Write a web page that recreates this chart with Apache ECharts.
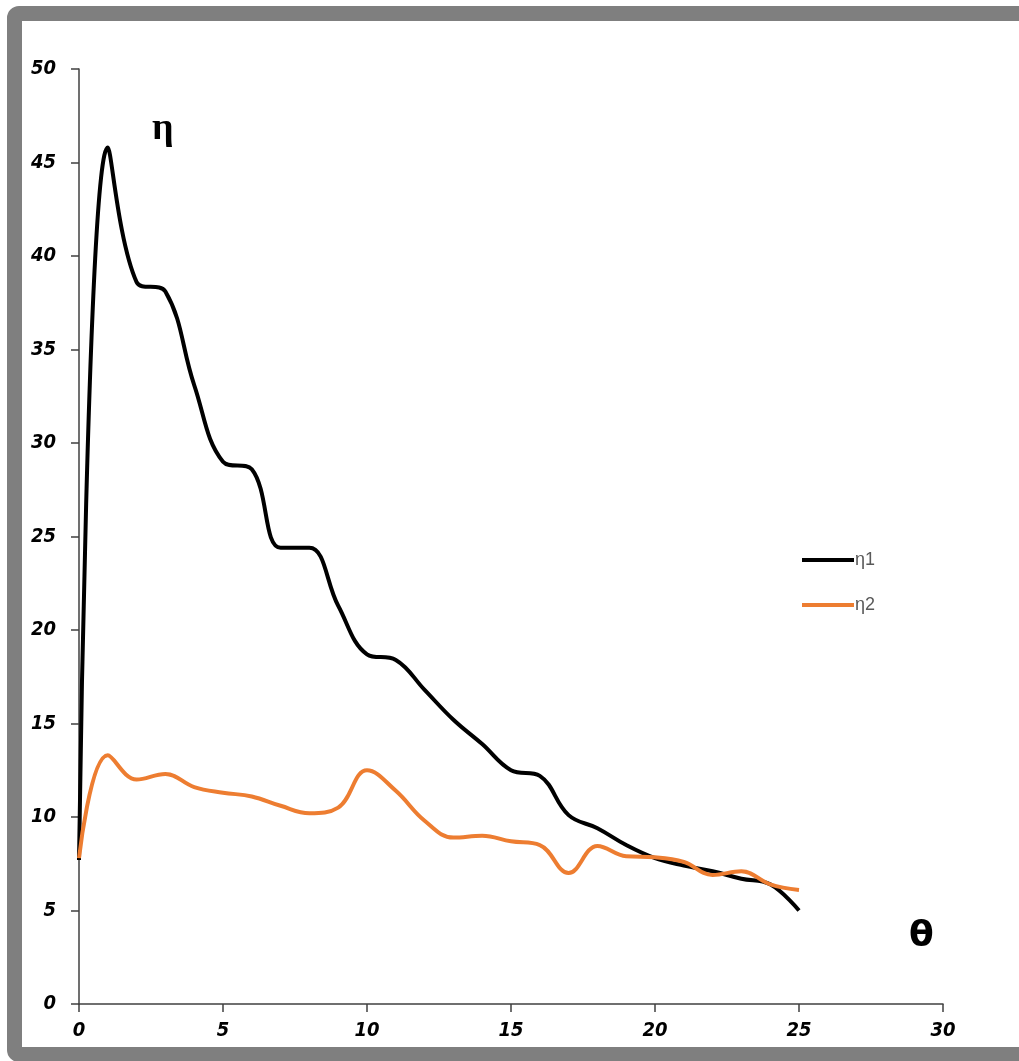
<!DOCTYPE html>
<html><head><meta charset="utf-8">
<script src="https://cdn.jsdelivr.net/npm/echarts@6/dist/echarts.min.js"></script>
<style>
html,body{margin:0;padding:0;background:#fff;overflow:hidden;}
#frame{position:absolute;left:7px;top:6px;width:1040px;height:1026px;border:15px solid #7f7f7f;border-radius:12px;background:#fff;}
#chart{position:absolute;left:0;top:0;width:1019px;height:1061px;}
</style></head>
<body>
<div id="frame"></div>
<div id="chart"></div>
<script>
const xValues = [0,1,2,3,4,5,6,7,8,9,10,11,12,13,14,15,16,17,18,19,20,21,22,23,24,25];
const eta1 = [7.7,45.8,38.6,38.1,33.1,29.0,28.6,24.4,24.4,21.3,18.7,18.4,16.8,15.2,13.9,12.5,12.2,10.1,9.4,8.5,7.8,7.4,7.1,6.7,6.4,5.0];
const eta2 = [7.8,13.3,12.0,12.3,11.6,11.3,11.1,10.6,10.2,10.5,12.5,11.4,9.8,8.9,9.0,8.7,8.5,7.0,8.45,7.9,7.85,7.6,6.9,7.1,6.4,6.1];
const seriesNames = ['η1','η2'];
const xTicks = [0,5,10,15,20,25,30];
const yTicks = [0,5,10,15,20,25,30,35,40,45,50];

const chart = echarts.init(document.getElementById('chart'), null, {renderer:'canvas'});
const labelFont = {fontFamily:'"Liberation Sans Narrow", "DejaVu Sans Condensed", sans-serif', fontStyle:'italic', fontWeight:'bold', fontSize:20, color:'#000'};
chart.setOption({
  backgroundColor:'transparent',
  animation:false,
  title:[
    {text:'η', left:147, top:105, textStyle:{fontFamily:'Liberation Serif, serif', fontWeight:'bold', fontSize:38, color:'#000'}},
    {text:'θ', left:904, top:914, textStyle:{fontFamily:'"DejaVu Sans", sans-serif', fontWeight:'bold', fontSize:36, color:'#000'}}
  ],
  legend:{
    orient:'vertical', left:797, top:546, itemGap:27, itemWidth:52, itemHeight:4, icon:'rect',
    textStyle:{fontFamily:'Liberation Sans, sans-serif', fontSize:18, color:'#595959', padding:[0,0,0,-4]},
    data:seriesNames
  },
  grid:{left:79, right:76, top:69, bottom:57, containLabel:false},
  xAxis:{
    type:'value', min:0, max:30, interval:5,
    axisLine:{lineStyle:{color:'#404040', width:1.5}},
    axisTick:{show:true, length:8, lineStyle:{color:'#404040', width:1.5}},
    splitLine:{show:false},
    axisLabel:Object.assign({margin:17}, labelFont)
  },
  yAxis:{
    type:'value', min:0, max:50, interval:5,
    axisLine:{show:true, lineStyle:{color:'#404040', width:1.5}},
    axisTick:{show:true, length:8, lineStyle:{color:'#404040', width:1.5}},
    splitLine:{show:false},
    axisLabel:Object.assign({margin:23}, labelFont)
  },
  series:[
    {name:seriesNames[0], type:'line', smooth:0.4, showSymbol:false, data:xValues.map((x,i)=>[x,eta1[i]]),
     lineStyle:{color:'#000', width:4}, itemStyle:{color:'#000'}},
    {name:seriesNames[1], type:'line', smooth:0.4, showSymbol:false, data:xValues.map((x,i)=>[x,eta2[i]]),
     lineStyle:{color:'#ED7D31', width:4}, itemStyle:{color:'#ED7D31'}}
  ]
});
</script>
</body></html>
